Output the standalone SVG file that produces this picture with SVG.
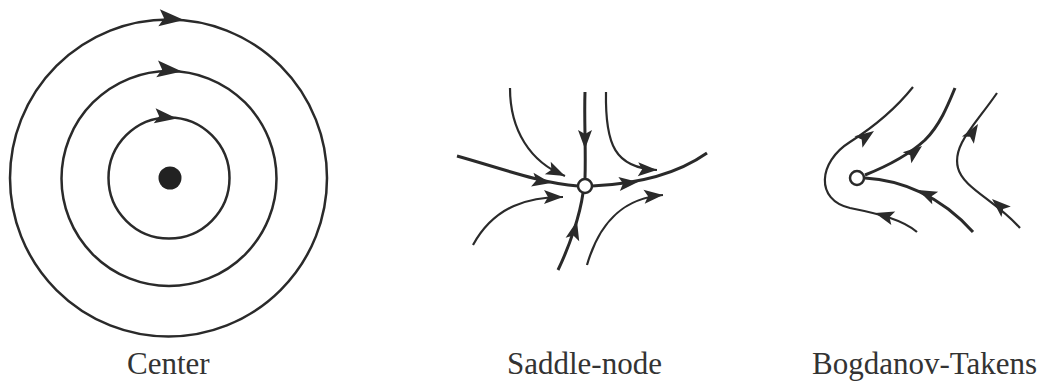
<svg xmlns="http://www.w3.org/2000/svg" xmlns:xlink="http://www.w3.org/1999/xlink" width="1055" height="383" viewBox="0 0 1055 383">
<style>
.orb{fill:none;stroke:#2a2a2a;stroke-width:2.5}
.thick{fill:none;stroke:#2a2a2a;stroke-width:3}
.thin{fill:none;stroke:#2a2a2a;stroke-width:2.2}
.head{fill:#2a2a2a;stroke:none}
.node{fill:#fff;stroke:#2a2a2a;stroke-width:2.5}
.lbl{font-family:"Liberation Serif","Times New Roman",serif;font-size:31px;fill:#333}
</style>
<defs>
<path id="ahC" class="head" d="M0,0 L-25,-8.5 L-20,0 L-25,8.5 Z"/>
<path id="ahS" class="head" d="M0,0 L-19,-7 L-15,0 L-19,7 Z"/>
</defs>
<rect width="1055" height="383" fill="#fff"/>

<g id="center">
<circle class="orb" cx="168.5" cy="178" r="158.5"/>
<circle class="orb" cx="169" cy="178.5" r="107.5"/>
<circle class="orb" cx="169" cy="178" r="60.5"/>
<circle cx="170" cy="178" r="11.5" fill="#222"/>
<use xlink:href="#ahC" transform="translate(184,20) rotate(5)"/>
<use xlink:href="#ahC" transform="translate(182,71.5) rotate(6)"/>
<use xlink:href="#ahC" transform="translate(177,118.5) rotate(7) scale(0.9)"/>
<text class="lbl" x="127" y="374">Center</text>
</g>

<g id="saddle-node">
<g id="saddle-connectors">
<path class="thick" d="M457,156 C500,168 540,183 578,186"/>
<path class="thick" d="M592,186 C640,184 680,172 707,153"/>
<path class="thick" d="M585,92 C584,120 586,150 585,178"/>
<path class="thick" d="M583,193 C580,215 570,245 558,270"/>
<path class="thin" d="M510,88 C510,130 530,162 565,176"/>
<path class="thin" d="M606,92 C605,145 615,168 657,170"/>
<path class="thin" d="M473,245 C495,205 530,197 563,197"/>
<path class="thin" d="M587,265 C600,220 625,198 663,195"/>
<use xlink:href="#ahS" transform="translate(551,183) rotate(10)"/>
<use xlink:href="#ahS" transform="translate(638,182) rotate(-6)"/>
<use xlink:href="#ahS" transform="translate(585,149) rotate(90)"/>
<use xlink:href="#ahS" transform="translate(577,221) rotate(-76)"/>
<use xlink:href="#ahS" transform="translate(565,176) rotate(25)"/>
<use xlink:href="#ahS" transform="translate(657,170) rotate(2)"/>
<use xlink:href="#ahS" transform="translate(563,197) rotate(0)"/>
<use xlink:href="#ahS" transform="translate(663,195) rotate(-5)"/>
</g>
<circle class="node" cx="585" cy="186" r="7"/>
<text class="lbl" x="507" y="374">Saddle-node</text>
</g>

<g id="bogdanov-takens">
<g id="bt-connectors">
<path class="thin" d="M913,87 C893,112 872,128 850,142 C818,162 815,200 850,208 C880,214 903,220 917,232"/>
<path class="thick" d="M865,175 C890,165 912,152 925,140 C940,125 948,105 955,88"/>
<path class="thick" d="M865,178 C900,180 940,195 973,232"/>
<path class="thin" d="M997,93 C975,125 952,145 958,168 C963,188 995,200 1020,228"/>
<use xlink:href="#ahS" transform="translate(874,131) rotate(-35)"/>
<use xlink:href="#ahS" transform="translate(875,213) rotate(196)"/>
<use xlink:href="#ahS" transform="translate(922,146) rotate(-38)"/>
<use xlink:href="#ahS" transform="translate(918,190) rotate(205)"/>
<use xlink:href="#ahS" transform="translate(978,124) rotate(-58)"/>
<use xlink:href="#ahS" transform="translate(992,199) rotate(222)"/>
</g>
<circle class="node" cx="857" cy="178" r="7"/>
<text class="lbl" x="812" y="374">Bogdanov-Takens</text>
</g>
</svg>
